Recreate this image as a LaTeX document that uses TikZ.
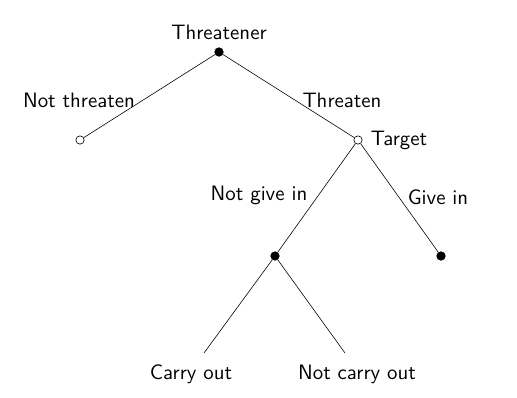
\documentclass[tikz,border=0pt]{standalone}
\begin{document}
\begin{tikzpicture}[x=0.48pt,y=-0.48pt,
  every node/.style={font=\sffamily},
  filled/.style={circle,fill=black,draw=black,inner sep=0pt,minimum size=4pt},
  hollow/.style={circle,fill=white,draw=black,inner sep=0pt,minimum size=4pt,line width=0.3pt},
  edge/.style={line width=0.28pt},
  lbl/.style={inner sep=1pt}]
\useasboundingbox (0,0) rectangle (517,397);
\node[filled] (root) at (219,52) {};
\node[hollow] (nt) at (80,140) {};
\node[hollow] (tg) at (358,140) {};
\node[filled] (ngi) at (275,256) {};
\node[filled] (gi) at (441,256) {};
\coordinate (co) at (204,353);
\coordinate (nco) at (345,353);
\draw[edge] (root) -- (nt);
\draw[edge] (root) -- (tg);
\draw[edge] (tg) -- (ngi);
\draw[edge] (tg) -- (gi);
\draw[edge] (ngi) -- (co);
\draw[edge] (ngi) -- (nco);
\node[lbl] at (219,32) {Threatener};
\node[lbl] at (79,100) {Not threaten};
\node[lbl] at (342,100) {Threaten};
\node[lbl] at (399,140) {Target};
\node[lbl] at (259,195) {Not give in};
\node[lbl] at (438,197) {Give in};
\node[lbl] at (191,374) {Carry out};
\node[lbl] at (357,374) {Not carry out};
\end{tikzpicture}
\end{document}
